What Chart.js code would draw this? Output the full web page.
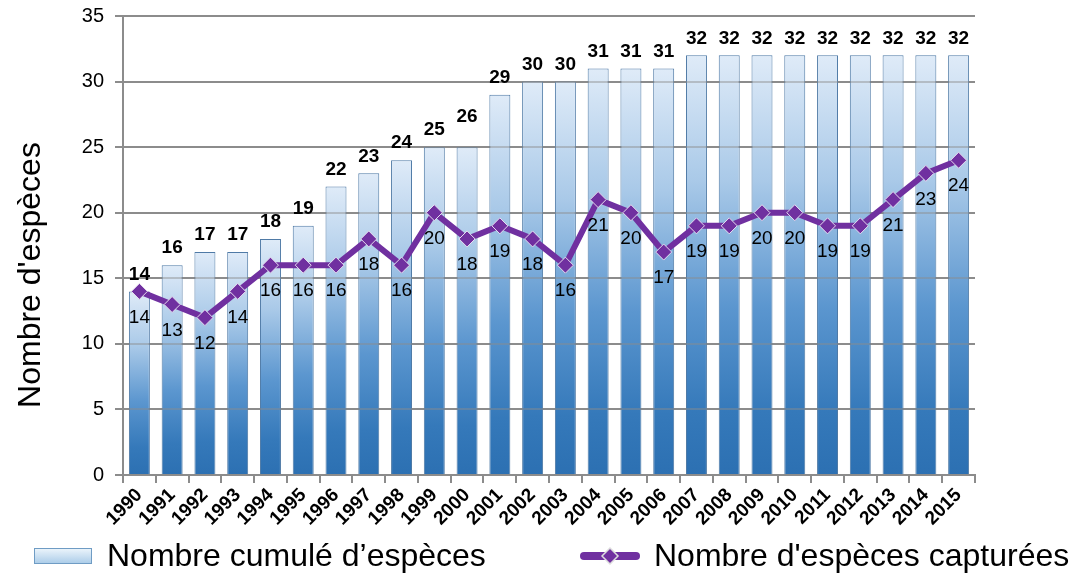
<!DOCTYPE html>
<html>
<head>
<meta charset="utf-8">
<script src="https://cdn.jsdelivr.net/npm/chart.js"></script>
<style>
body { margin: 0; background: #fff; }
#wrap { width: 1073px; height: 575px; }
</style>
</head>
<body>
<div id="wrap"><canvas id="chart"></canvas></div>
<script>

// ==========================
// données
// ==========================

const years = ["1990", "1991", "1992", "1993", "1994", "1995", "1996", "1997", "1998", "1999",
  "2000", "2001", "2002", "2003", "2004", "2005", "2006", "2007", "2008", "2009",
  "2010", "2011", "2012", "2013", "2014", "2015"];

const cumulated = [14, 16, 17, 17, 18, 19, 22, 23, 24, 25,
  25, 29, 30, 30, 31, 31, 31, 32, 32, 32,
  32, 32, 32, 32, 32, 32];

// étiquettes affichées au-dessus des barres (2000 affiche 26 sur une barre à 25)
const cumulatedLabels = ["14", "16", "17", "17", "18", "19", "22", "23", "24", "25",
  "26", "29", "30", "30", "31", "31", "31", "32", "32", "32",
  "32", "32", "32", "32", "32", "32"];

const captured = [14, 13, 12, 14, 16, 16, 16, 18, 16, 20,
  18, 19, 18, 16, 21, 20, 17, 19, 19, 20,
  20, 19, 19, 21, 23, 24];

const yTicks = [0, 5, 10, 15, 20, 25, 30, 35];

const FONT = "'Liberation Sans', Arial, sans-serif";
const PURPLE = "#7030A0";


// ==========================
// dégradé des barres
// ==========================

function barGradient(ctx) {

  const chart = ctx.chart;
  const y = chart.scales.y;

  if (!chart.chartArea || !y || ctx.type !== "data") return "#5b9bd5";

  const top = y.getPixelForValue(ctx.raw);
  const bottom = y.getPixelForValue(0);

  const g = chart.ctx.createLinearGradient(0, top, 0, bottom);
  g.addColorStop(0, "#dfebf8");
  g.addColorStop(0.3, "#a9c9e8");
  g.addColorStop(0.6, "#5b96cf");
  g.addColorStop(0.85, "#3579ba");
  g.addColorStop(1, "#2c70b2");

  return g;

}


// ==========================
// étiquettes + titre + légende
// ==========================

const decorPlugin = {

  id: "decor",

  // quadrillage repassé par-dessus les barres, sous la courbe
  beforeDatasetDraw(chart, args) {

    if (args.index !== 0) return;

    const c = chart.ctx;
    const y = chart.scales.y;
    const area = chart.chartArea;

    c.save();
    c.strokeStyle = "rgba(140,140,140,0.45)";
    c.lineWidth = 2;
    yTicks.forEach(v => {
      if (v === 0) return;
      const py = Math.round(y.getPixelForValue(v));
      c.beginPath();
      c.moveTo(area.left, py);
      c.lineTo(area.right, py);
      c.stroke();
    });
    c.restore();

  },

  afterDatasetsDraw(chart) {

    const c = chart.ctx;
    const y = chart.scales.y;
    const bars = chart.getDatasetMeta(1).data;
    const pts = chart.getDatasetMeta(0).data;

    c.save();
    c.textAlign = "center";
    c.textBaseline = "middle";
    c.fillStyle = "#000";

    c.font = "bold 19px " + FONT;
    bars.forEach((b, i) => {
      const ty = y.getPixelForValue(Number(cumulatedLabels[i])) - 17;
      c.fillText(cumulatedLabels[i], b.x, ty);
    });

    c.font = "19px " + FONT;
    pts.forEach((p, i) => {
      c.fillText(String(captured[i]), p.x, p.y + 26);
    });

    c.restore();

  },

  afterDraw(chart) {

    const c = chart.ctx;
    c.save();

    // titre de l'axe Y
    c.fillStyle = "#000";
    c.font = "32px " + FONT;
    c.textAlign = "center";
    c.textBaseline = "middle";
    c.translate(31, 275);
    c.rotate(-Math.PI / 2);
    c.fillText("Nombre d'espèces", 0, 0);
    c.setTransform(1, 0, 0, 1, 0, 0);

    // légende : barre
    const ly = 556;
    const g = c.createLinearGradient(0, ly - 8, 0, ly + 8);
    g.addColorStop(0, "#eef6fc");
    g.addColorStop(1, "#a9cbe8");
    c.fillStyle = g;
    c.fillRect(34, ly - 8, 58, 16);
    c.strokeStyle = "#6f9cc4";
    c.lineWidth = 1;
    c.strokeRect(34.5, ly - 7.5, 57, 15);

    c.fillStyle = "#000";
    c.font = "32px " + FONT;
    c.textAlign = "left";
    c.fillText("Nombre cumulé d’espèces", 107, ly + 1);

    // légende : ligne
    c.strokeStyle = PURPLE;
    c.lineWidth = 8;
    c.lineCap = "round";
    c.beginPath();
    c.moveTo(584, ly);
    c.lineTo(636, ly);
    c.stroke();

    c.fillStyle = PURPLE;
    c.strokeStyle = "#ddd";
    c.lineWidth = 1.5;
    c.beginPath();
    c.moveTo(610, ly - 8);
    c.lineTo(618, ly);
    c.lineTo(610, ly + 8);
    c.lineTo(602, ly);
    c.closePath();
    c.fill();
    c.stroke();

    c.fillStyle = "#000";
    c.fillText("Nombre d'espèces capturées", 654, ly + 1);

    c.restore();

  }

};


// ==========================
// graphique
// ==========================

new Chart(document.getElementById("chart"), {

  type: "bar",

  data: {
    labels: years,
    datasets: [
      {
        type: "line",
        label: "Nombre d'espèces capturées",
        data: captured,
        order: 0,
        borderColor: PURPLE,
        borderWidth: 6,
        tension: 0,
        pointStyle: "rectRot",
        pointRadius: 8,
        pointBackgroundColor: PURPLE,
        pointBorderColor: "#e6dcef",
        pointBorderWidth: 1
      },
      {
        type: "bar",
        label: "Nombre cumulé d’espèces",
        data: cumulated,
        order: 1,
        backgroundColor: barGradient,
        borderColor: "#4f7aa6",
        borderWidth: 1,
        categoryPercentage: 1,
        barPercentage: 0.64
      }
    ]
  },

  options: {
    responsive: true,
    maintainAspectRatio: false,
    animation: false,
    layout: {
      padding: { left: 0, right: 98, top: 16, bottom: 0 }
    },
    plugins: {
      legend: { display: false },
      tooltip: { enabled: false }
    },
    scales: {
      x: {
        grid: {
          offset: true,
          drawOnChartArea: false,
          drawTicks: true,
          tickLength: 8,
          color: "#8c8c8c",
          lineWidth: 2
        },
        border: { color: "#8c8c8c", width: 2 },
        ticks: {
          color: "#000",
          font: { family: FONT, size: 19, weight: "bold" },
          minRotation: 45,
          maxRotation: 45,
          autoSkip: false,
          padding: 1
        },
        afterFit(scale) {
          scale.height = 100;
          scale.paddingLeft = 0;
          scale.paddingRight = 0;
        }
      },
      y: {
        min: 0,
        max: 35,
        afterBuildTicks(scale) { scale.ticks = yTicks.map(v => ({ value: v })); },
        grid: {
          color: "#8c8c8c",
          lineWidth: 2,
          tickLength: 8
        },
        border: { color: "#8c8c8c", width: 2 },
        ticks: {
          color: "#000",
          font: { family: FONT, size: 20 },
          padding: 11
        },
        afterFit(scale) {
          scale.width = 123;
          scale.paddingTop = 0;
          scale.paddingBottom = 0;
        }
      }
    }
  },

  plugins: [decorPlugin]

});

</script>
</body>
</html>
